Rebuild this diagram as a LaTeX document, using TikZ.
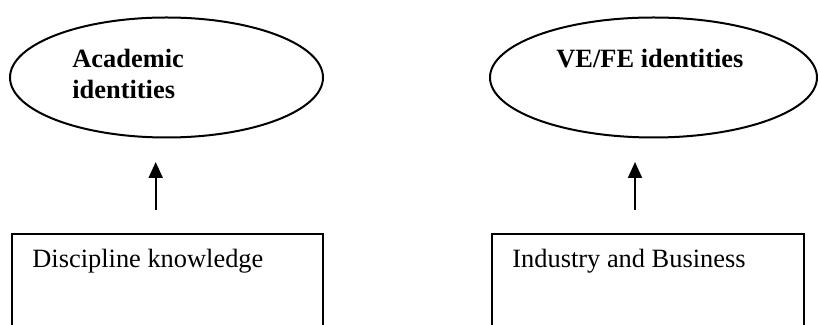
\documentclass[tikz,border=0pt]{standalone}
\usepackage{fontspec}
\setmainfont{Liberation Serif}
\usetikzlibrary{shapes.geometric,arrows.meta}
\begin{document}
\begin{tikzpicture}[x=0.5pt,y=-0.5pt,
  ident/.style={draw=black,line width=1pt,ellipse,inner sep=0pt},
  srcbox/.style={draw=black,line width=1pt,rectangle,inner sep=0pt},
  boldlbl/.style={anchor=base west,inner sep=0pt,font=\fontsize{13.2}{15.5}\selectfont\bfseries},
  plainlbl/.style={anchor=base west,inner sep=0pt,font=\fontsize{13.2}{15.5}\selectfont},
  arr/.style={line width=1pt,-{Triangle[length=8pt,width=7pt]}}]
\useasboundingbox (0,0) rectangle (818,325);
\clip (0,0) rectangle (818,325);
% ellipses
\node[ident,minimum width=156.5pt,minimum height=60pt] (acad) at (166.5,77.5) {};
\node[ident,minimum width=163.5pt,minimum height=60pt] (vefe) at (653.5,77.5) {};
\node[boldlbl] (acadA) at (72,68) {Academic};
\node[boldlbl] (acadB) at (72,99) {identities};
\node[boldlbl] (vefeT) at (556,68) {VE/FE identities};
% boxes (extend past bottom edge)
\node[srcbox,anchor=north west,minimum width=155.5pt,minimum height=70pt] (disc) at (11,233) {};
\node[srcbox,anchor=north west,minimum width=156pt,minimum height=70pt] (ind) at (491,233) {};
\node[plainlbl] (discT) at (32,268) {Discipline knowledge};
\node[plainlbl] (indT) at (512,268) {Industry and Business};
% arrows
\coordinate (a1s) at (155.7,210);
\coordinate (a1e) at (155.7,162);
\coordinate (a2s) at (635,210);
\coordinate (a2e) at (635,162);
\draw[arr] (a1s) -- (a1e);
\draw[arr] (a2s) -- (a2e);
\end{tikzpicture}
\end{document}
